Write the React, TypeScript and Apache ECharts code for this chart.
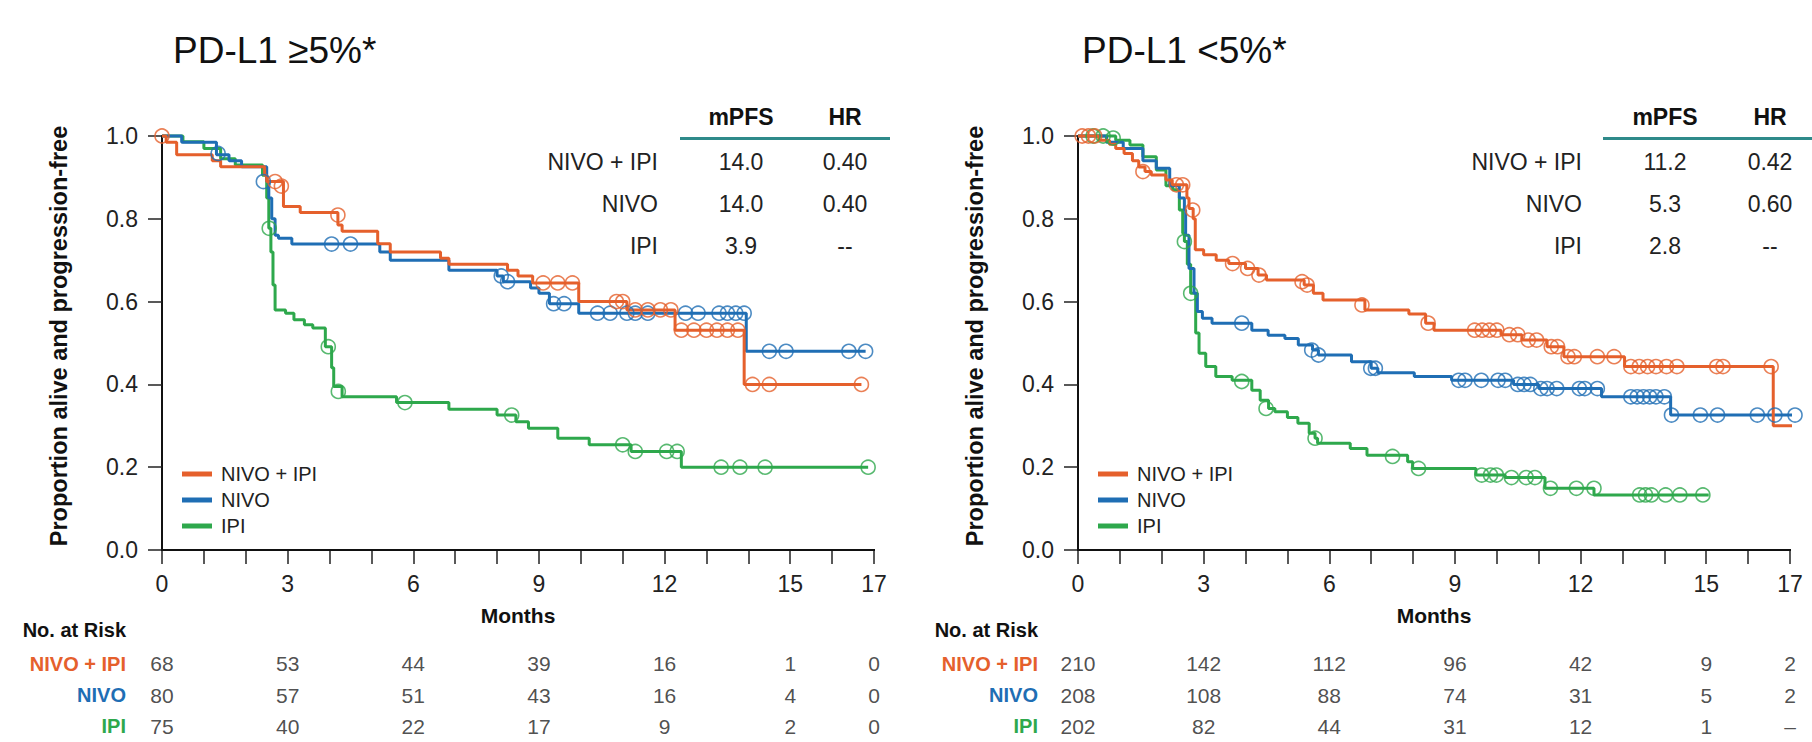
import React, { useEffect, useRef } from 'react';
import * as echarts from 'echarts';

const FONT = "'Liberation Sans', Arial, Helvetica, sans-serif";

const armNames = ['NIVO + IPI', 'NIVO', 'IPI'];
const armColors = ['#E5602C', '#1F6EB4', '#2EA84C'];
const monthTickLabels = [0, 3, 6, 9, 12, 15, 17];
const riskMonths = [0, 3, 6, 9, 12, 15, 17];
const tableHeaders = ['mPFS', 'HR'];

// ---------- Left panel: PD-L1 >= 5% ----------
const leftTitle = 'PD-L1 ≥5%*';
const leftNivoIpi = [
  [0, 1.0], [0.1, 0.985], [0.35, 0.955], [1.2, 0.94], [1.4, 0.926], [2.45, 0.905], [2.5, 0.89],
  [2.9, 0.83], [3.3, 0.815], [4.2, 0.785], [4.3, 0.77], [5.15, 0.74], [5.45, 0.72], [6.65, 0.705],
  [6.85, 0.69], [8.25, 0.676], [8.5, 0.662], [8.85, 0.645], [9.95, 0.6], [11.1, 0.58],
  [12.25, 0.531], [13.9, 0.4], [16.7, 0.4],
];
const leftNivo = [
  [0, 1.0], [0.47, 0.985], [1.3, 0.955], [1.6, 0.94], [1.9, 0.926], [2.5, 0.89], [2.55, 0.85],
  [2.62, 0.8], [2.7, 0.76], [2.78, 0.753], [3.1, 0.739], [5.2, 0.72], [5.45, 0.7], [6.85, 0.676],
  [8.0, 0.662], [8.15, 0.648], [8.8, 0.633], [9.0, 0.62], [9.25, 0.595], [9.95, 0.572],
  [13.95, 0.48], [16.8, 0.48],
];
const leftIpi = [
  [0, 1.0], [0.5, 0.986], [1.0, 0.97], [1.4, 0.945], [1.75, 0.93], [2.4, 0.905], [2.5, 0.85],
  [2.55, 0.777], [2.6, 0.72], [2.65, 0.64], [2.7, 0.58], [2.95, 0.572], [3.15, 0.556], [3.4, 0.544],
  [3.6, 0.536], [3.9, 0.491], [4.05, 0.44], [4.1, 0.395], [4.3, 0.37], [5.6, 0.356], [6.85, 0.34],
  [8.0, 0.326], [8.45, 0.31], [8.75, 0.294], [9.45, 0.27], [10.2, 0.254], [11.2, 0.238],
  [12.4, 0.2], [16.86, 0.2],
];
const leftNivoIpiCensored = [
  [0, 1.0], [2.7, 0.89], [2.85, 0.879], [4.2, 0.809], [9.1, 0.645], [9.45, 0.645], [9.8, 0.645],
  [10.85, 0.6], [11.0, 0.6], [11.3, 0.58], [11.6, 0.58], [11.9, 0.58], [12.15, 0.58], [12.4, 0.531],
  [12.7, 0.531], [13.0, 0.531], [13.25, 0.531], [13.5, 0.531], [13.75, 0.531], [14.1, 0.4],
  [14.5, 0.4], [16.7, 0.4],
];
const leftNivoCensored = [
  [1.34, 0.958], [2.42, 0.89], [4.05, 0.739], [4.5, 0.739], [8.1, 0.662], [8.25, 0.648],
  [9.35, 0.595], [9.6, 0.595], [10.4, 0.572], [10.7, 0.572], [11.1, 0.572], [11.3, 0.572],
  [11.6, 0.572], [12.5, 0.572], [12.8, 0.572], [13.3, 0.572], [13.5, 0.572], [13.7, 0.572],
  [13.9, 0.572], [14.5, 0.48], [14.9, 0.48], [16.4, 0.48], [16.8, 0.48],
];
const leftIpiCensored = [
  [2.56, 0.777], [3.97, 0.491], [4.21, 0.383], [5.8, 0.356], [8.35, 0.326], [11.0, 0.254],
  [11.3, 0.238], [12.05, 0.238], [12.3, 0.238], [13.35, 0.2], [13.8, 0.2], [14.4, 0.2], [16.86, 0.2],
];
const leftRiskNivoIpi = [68, 53, 44, 39, 16, 1, 0];
const leftRiskNivo = [80, 57, 51, 43, 16, 4, 0];
const leftRiskIpi = [75, 40, 22, 17, 9, 2, 0];
const leftMpfs = ['14.0', '14.0', '3.9'];
const leftHr = ['0.40', '0.40', '--'];

// ---------- Right panel: PD-L1 < 5% ----------
const rightTitle = 'PD-L1 <5%*';
const rightNivoIpi = [
  [0, 1.0], [0.5, 0.99], [0.75, 0.98], [0.9, 0.97], [1.1, 0.958], [1.3, 0.94], [1.45, 0.925],
  [1.6, 0.914], [1.75, 0.906], [2.1, 0.894], [2.25, 0.882], [2.6, 0.85], [2.65, 0.825], [2.75, 0.8],
  [2.8, 0.725], [3.0, 0.713], [3.3, 0.7], [3.6, 0.692], [4.0, 0.68], [4.3, 0.664], [4.5, 0.652],
  [5.4, 0.64], [5.62, 0.62], [5.85, 0.604], [6.85, 0.58], [7.9, 0.57], [8.3, 0.548], [8.5, 0.531],
  [10.1, 0.52], [10.6, 0.507], [11.2, 0.491], [11.6, 0.467], [13.05, 0.443], [16.6, 0.3], [17.3, 0.3],
];
const rightNivo = [
  [0, 1.0], [0.68, 0.985], [1.08, 0.97], [1.55, 0.94], [1.87, 0.922], [2.19, 0.88], [2.42, 0.85],
  [2.54, 0.821], [2.57, 0.76], [2.65, 0.68], [2.77, 0.62], [2.85, 0.576], [2.97, 0.56], [3.2, 0.548],
  [4.15, 0.531], [4.54, 0.519], [4.94, 0.511], [5.26, 0.495], [5.6, 0.483], [5.74, 0.471],
  [6.53, 0.455], [7.0, 0.439], [7.16, 0.428], [8.03, 0.419], [8.92, 0.41], [10.4, 0.4],
  [11.0, 0.39], [12.5, 0.37], [14.15, 0.326], [17.12, 0.326],
];
const rightIpi = [
  [0, 1.0], [0.9, 0.99], [1.24, 0.978], [1.55, 0.95], [1.87, 0.918], [2.1, 0.88], [2.26, 0.87],
  [2.42, 0.821], [2.5, 0.765], [2.54, 0.745], [2.61, 0.69], [2.69, 0.62], [2.81, 0.524],
  [2.89, 0.475], [3.05, 0.443], [3.29, 0.419], [3.68, 0.41], [4.15, 0.386], [4.35, 0.362],
  [4.55, 0.342], [4.7, 0.334], [5.0, 0.32], [5.25, 0.306], [5.52, 0.282], [5.66, 0.27],
  [5.72, 0.258], [6.5, 0.245], [6.9, 0.229], [7.87, 0.213], [7.99, 0.197], [9.5, 0.181],
  [10.2, 0.175], [11.15, 0.149], [12.32, 0.133], [15.06, 0.133],
];
const rightNivoIpiCensored = [
  [0.1, 1.0], [0.25, 1.0], [0.4, 1.0], [1.55, 0.914], [2.35, 0.882], [2.5, 0.882], [2.74, 0.821],
  [3.69, 0.692], [4.05, 0.68], [4.32, 0.664], [5.35, 0.648], [5.47, 0.64], [6.78, 0.592],
  [8.36, 0.548], [9.47, 0.531], [9.65, 0.531], [9.82, 0.531], [10.0, 0.531], [10.3, 0.52],
  [10.5, 0.52], [10.75, 0.507], [10.95, 0.507], [11.3, 0.491], [11.45, 0.491], [11.7, 0.467],
  [11.85, 0.467], [12.4, 0.467], [12.8, 0.467], [13.2, 0.443], [13.4, 0.443], [13.6, 0.443],
  [13.8, 0.443], [14.05, 0.443], [14.3, 0.443], [15.25, 0.443], [15.4, 0.443], [16.55, 0.443],
];
const rightNivoCensored = [
  [3.91, 0.548], [5.58, 0.483], [5.74, 0.471], [6.99, 0.439], [7.1, 0.439], [9.09, 0.41],
  [9.24, 0.41], [9.63, 0.41], [10.03, 0.41], [10.2, 0.41], [10.5, 0.4], [10.65, 0.4], [10.8, 0.4],
  [11.05, 0.39], [11.2, 0.39], [11.43, 0.39], [11.97, 0.39], [12.1, 0.39], [12.4, 0.39],
  [13.2, 0.37], [13.35, 0.37], [13.5, 0.37], [13.65, 0.37], [13.8, 0.37], [14.0, 0.37],
  [14.17, 0.326], [14.86, 0.326], [15.27, 0.326], [16.22, 0.326], [16.64, 0.326], [17.12, 0.326],
];
const rightIpiCensored = [
  [0.36, 1.0], [0.6, 1.0], [0.84, 0.995], [2.54, 0.745], [2.69, 0.62], [3.91, 0.407],
  [4.49, 0.342], [5.66, 0.27], [7.51, 0.226], [8.13, 0.197], [9.64, 0.181], [9.85, 0.181],
  [9.99, 0.181], [10.35, 0.175], [10.7, 0.175], [10.91, 0.175], [11.28, 0.149], [11.9, 0.149],
  [12.32, 0.149], [13.41, 0.133], [13.55, 0.133], [13.69, 0.133], [14.03, 0.133], [14.37, 0.133],
  [14.92, 0.133],
];
const rightRiskNivoIpi = [210, 142, 112, 96, 42, 9, 2];
const rightRiskNivo = [208, 108, 88, 74, 31, 5, 2];
const rightRiskIpi = [202, 82, 44, 31, 12, 1, '–'];
const rightMpfs = ['11.2', '5.3', '2.8'];
const rightHr = ['0.42', '0.60', '--'];

// ---------- layout (pixels) ----------
const panels = [
  {
    title: leftTitle, titleX: 173,
    curves: [leftNivoIpi, leftNivo, leftIpi],
    censored: [leftNivoIpiCensored, leftNivoCensored, leftIpiCensored],
    risk: [leftRiskNivoIpi, leftRiskNivo, leftRiskIpi],
    mpfs: leftMpfs, hr: leftHr,
    gridLeft: 162, gridWidth: 712, axisExtent: [-0.37, 17.5],
    tbl: { labelRight: 496, mpfs: 579, hr: 683, lineFrom: 518, lineTo: 728 },
    riskMargin: 36,
  },
  {
    title: rightTitle, titleX: 1082,
    curves: [rightNivoIpi, rightNivo, rightIpi],
    censored: [rightNivoIpiCensored, rightNivoCensored, rightIpiCensored],
    risk: [rightRiskNivoIpi, rightRiskNivo, rightRiskIpi],
    mpfs: rightMpfs, hr: rightHr,
    gridLeft: 1078, gridWidth: 712, axisExtent: [-0.27, 17.45],
    tbl: { labelRight: 504, mpfs: 587, hr: 692, lineFrom: 525, lineTo: 740 },
    riskMargin: 40,
  },
];

const PLOT_TOP = 136;
const PLOT_H = 414;
const RISK_TOP = 648;
const RISK_H = 97.5;
const TABLE_HEAD_Y = 117;
const TABLE_LINE_Y = 138.5;
const TABLE_ROW_Y = [162, 204, 246];
const TEXT = '#222';

function buildOption() {
  const grid: any[] = [];
  const xAxis: any[] = [];
  const yAxis: any[] = [];
  const series: any[] = [];
  const legend: any[] = [];
  const graphic: any[] = [];

  panels.forEach((p, pi) => {
    const gMain = pi * 2;
    const gRisk = pi * 2 + 1;
    grid.push({ left: p.gridLeft, width: p.gridWidth, top: PLOT_TOP, height: PLOT_H });
    grid.push({ left: p.gridLeft, width: p.gridWidth, top: RISK_TOP, height: RISK_H });

    xAxis.push({
      type: 'value', gridIndex: gMain, min: 0, max: 17, interval: 1,
      axisLine: { show: false },
      axisTick: { show: true, length: 14, lineStyle: { color: '#222', width: 1.5 } },
      axisLabel: {
        margin: 22, fontSize: 23, color: TEXT, fontFamily: FONT,
        formatter: (v: number) => (monthTickLabels.includes(v) ? String(v) : ''),
      },
      splitLine: { show: false },
      name: 'Months', nameLocation: 'middle', nameGap: 55,
      nameTextStyle: { fontSize: 21, fontWeight: 'bold', color: '#111', fontFamily: FONT },
    });
    xAxis.push({ type: 'value', gridIndex: gRisk, min: 0, max: 17, show: false });

    yAxis.push({
      type: 'value', gridIndex: gMain, min: 0, max: 1, interval: 0.2,
      axisLine: { show: true, onZero: false, lineStyle: { color: '#111', width: 2 } },
      axisTick: { show: true, length: 14, lineStyle: { color: '#222', width: 1.5 } },
      axisLabel: {
        margin: 24, fontSize: 23, color: TEXT, fontFamily: FONT,
        formatter: (v: number) => v.toFixed(1),
      },
      splitLine: { show: false },
      name: 'Proportion alive and progression-free', nameLocation: 'middle', nameGap: 91,
      nameTextStyle: {
        fontSize: 23.5, fontWeight: 'bold', color: '#111', fontFamily: FONT,
        padding: [0, 0, 0, 14],
      },
    });
    yAxis.push({
      type: 'category', gridIndex: gRisk, data: armNames, inverse: true,
      axisLine: { show: false }, axisTick: { show: false }, splitLine: { show: false },
      axisLabel: {
        margin: p.riskMargin, fontSize: 20, fontWeight: 'bold', fontFamily: FONT,
        color: (_v: any, idx: number) => armColors[idx],
      },
    });

    // extended x-axis line
    series.push({
      type: 'line', name: 'x-axis line', xAxisIndex: gMain, yAxisIndex: gMain,
      data: [[p.axisExtent[0], 0], [p.axisExtent[1], 0]],
      clip: false, symbol: 'none', silent: true,
      lineStyle: { color: '#111', width: 2 }, z: 1,
    });

    for (let i = 2; i >= 0; i--) {
      series.push({
        type: 'line', name: armNames[i], xAxisIndex: gMain, yAxisIndex: gMain,
        data: p.curves[i], step: 'end', symbol: 'none', showSymbol: false, clip: false,
        lineStyle: { color: armColors[i], width: 3 }, itemStyle: { color: armColors[i] },
        z: 3,
      });
      series.push({
        type: 'scatter', name: armNames[i] + ' censored', xAxisIndex: gMain, yAxisIndex: gMain,
        data: p.censored[i], symbol: 'circle', symbolSize: 14, clip: false, silent: true,
        itemStyle: { color: 'rgba(0,0,0,0)', borderColor: armColors[i], borderWidth: 1.6 },
        z: 4,
      });
    }

    armNames.forEach((arm, i) => {
      const row = p.risk[i];
      series.push({
        type: 'scatter', name: 'risk ' + arm, xAxisIndex: gRisk, yAxisIndex: gRisk,
        data: riskMonths.map((m) => [m, arm]),
        symbolSize: 1, itemStyle: { color: 'rgba(0,0,0,0)' }, silent: true, clip: false,
        label: {
          show: true, position: 'inside', fontSize: 21, color: TEXT, fontFamily: FONT,
          formatter: (prm: any) => String(row[prm.dataIndex]),
        },
      });
    });

    legend.push({
      orient: 'vertical', left: p.gridLeft + 15, top: 459, data: armNames,
      icon: 'rect', itemWidth: 30, itemHeight: 5, itemGap: 6, selectedMode: false,
      textStyle: { fontSize: 20, color: TEXT, fontFamily: FONT, padding: [0, 0, 0, 4] },
    });

    // title
    graphic.push({
      type: 'text', x: p.titleX, y: 50,
      style: { text: p.title, fontSize: 37, fontFamily: FONT, fill: '#111', align: 'left', verticalAlign: 'middle' },
    });

    // mPFS / HR table
    const gl = p.gridLeft;
    graphic.push({
      type: 'text', x: gl + p.tbl.mpfs, y: TABLE_HEAD_Y,
      style: { text: tableHeaders[0], fontSize: 23, fontWeight: 'bold', fontFamily: FONT, fill: '#111', align: 'center', verticalAlign: 'middle' },
    });
    graphic.push({
      type: 'text', x: gl + p.tbl.hr, y: TABLE_HEAD_Y,
      style: { text: tableHeaders[1], fontSize: 23, fontWeight: 'bold', fontFamily: FONT, fill: '#111', align: 'center', verticalAlign: 'middle' },
    });
    graphic.push({
      type: 'line',
      shape: { x1: gl + p.tbl.lineFrom, y1: TABLE_LINE_Y, x2: gl + p.tbl.lineTo, y2: TABLE_LINE_Y },
      style: { stroke: '#2F8A8A', lineWidth: 3 },
    });
    armNames.forEach((arm, i) => {
      graphic.push({
        type: 'text', x: gl + p.tbl.labelRight, y: TABLE_ROW_Y[i],
        style: { text: arm, fontSize: 23, fontFamily: FONT, fill: TEXT, align: 'right', verticalAlign: 'middle' },
      });
      graphic.push({
        type: 'text', x: gl + p.tbl.mpfs, y: TABLE_ROW_Y[i],
        style: { text: p.mpfs[i], fontSize: 23, fontFamily: FONT, fill: TEXT, align: 'center', verticalAlign: 'middle' },
      });
      graphic.push({
        type: 'text', x: gl + p.tbl.hr, y: TABLE_ROW_Y[i],
        style: { text: p.hr[i], fontSize: 23, fontFamily: FONT, fill: TEXT, align: 'center', verticalAlign: 'middle' },
      });
    });

    // No. at Risk header
    graphic.push({
      type: 'text', x: gl - p.riskMargin, y: 630,
      style: { text: 'No. at Risk', fontSize: 20, fontWeight: 'bold', fontFamily: FONT, fill: '#111', align: 'right', verticalAlign: 'middle' },
    });
  });

  return {
    animation: false,
    backgroundColor: '#ffffff',
    textStyle: { fontFamily: FONT },
    grid, xAxis, yAxis, series, legend, graphic,
  };
}

export default function App() {
  const ref = useRef<HTMLDivElement>(null);
  useEffect(() => {
    if (!ref.current) return;
    const chart = echarts.init(ref.current, undefined, { renderer: 'svg' });
    chart.setOption(buildOption() as any);
    return () => chart.dispose();
  }, []);
  return (
    <div
      ref={ref}
      style={{ position: 'absolute', left: 0, top: 0, width: 1812, height: 742, background: '#fff' }}
    />
  );
}
